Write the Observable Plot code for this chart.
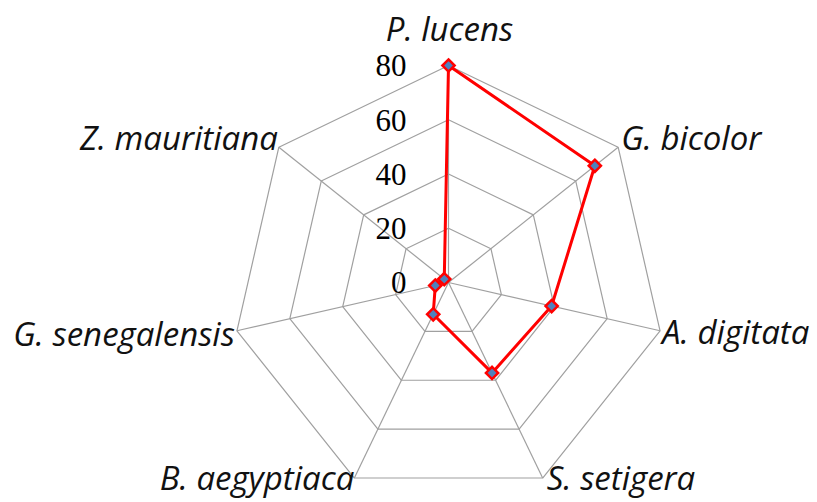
<!DOCTYPE html>
<html>
<head>
<meta charset="utf-8">
<script src="https://cdn.jsdelivr.net/npm/d3@7"></script>
<script src="https://cdn.jsdelivr.net/npm/@observablehq/plot@0.6"></script>
<style>
  html, body { margin: 0; padding: 0; background: #ffffff; }
  #chart svg { display: block; }
</style>
</head>
<body>
<div id="chart"></div>
<script>
// ---- data ----
const species = ["P. lucens", "G. bicolor", "A. digitata", "S. setigera", "B. aegyptiaca", "G. senegalensis", "Z. mauritiana"];
const values = [80, 69, 39, 37, 13, 5, 2];
const tickValues = [0, 20, 40, 60, 80];
const tickLabels = ["0", "20", "40", "60", "80"];

// ---- layout ----
const W = 817, H = 502;
const cx = 448, cy = 282, R = 217, maxV = 80;
const k = R / maxV;
const n = species.length;
const ang = i => (i * 2 * Math.PI) / n;
const px = (v, i) => v * Math.sin(ang(i));
const py = (v, i) => v * Math.cos(ang(i));

const rings = [];
for (const lv of tickValues.filter(t => t > 0)) {
  for (let i = 0; i <= n; i++) rings.push({lv, x: px(lv, i % n), y: py(lv, i % n)});
}
const spokes = species.map((s, i) => ({x: px(maxV, i), y: py(maxV, i)}));
const series = [];
for (let i = 0; i <= n; i++) series.push({name: species[i % n], x: px(values[i % n], i % n), y: py(values[i % n], i % n)});
const points = series.slice(0, n);

const labels = species.map((s, i) => ({s, x: px(maxV, i), y: py(maxV, i)}));
const labelFont = {fontFamily: "'Open Sans', sans-serif", fontStyle: "italic", fontSize: 33, fill: "#111", lineAnchor: "bottom"};
const place = {
  "P. lucens": {textAnchor: "middle", dx: 1, dy: -25},
  "G. bicolor": {textAnchor: "start", dx: 3, dy: 3},
  "A. digitata": {textAnchor: "start", dx: 2, dy: 13},
  "S. setigera": {textAnchor: "start", dx: 4, dy: 12},
  "B. aegyptiaca": {textAnchor: "end", dx: 0, dy: 12},
  "G. senegalensis": {textAnchor: "end", dx: -2, dy: 15},
  "Z. mauritiana": {textAnchor: "end", dx: -1, dy: 3}
};
const labelMarks = labels.map(d => Plot.text([d], {x: "x", y: "y", text: "s", ...labelFont, ...place[d.s]}));

const ticksData = tickValues.map((t, i) => ({t: tickLabels[i], x: 0, y: t}));

const chart = Plot.plot({
  width: W,
  height: H,
  margin: 0,
  style: {background: "#ffffff", overflow: "visible"},
  x: {type: "linear", domain: [-cx / k, (W - cx) / k], range: [0, W], axis: null},
  y: {type: "linear", domain: [-(H - cy) / k, cy / k], range: [H, 0], axis: null},
  marks: [
    Plot.line(rings, {x: "x", y: "y", z: "lv", stroke: "#a0a0a0", strokeWidth: 1.2}),
    Plot.link(spokes, {x1: 0, y1: 0, x2: "x", y2: "y", stroke: "#a0a0a0", strokeWidth: 1.2}),
    Plot.text(ticksData, {x: "x", y: "y", text: "t", textAnchor: "end", dx: -42, dy: 1, lineAnchor: "middle",
      fontFamily: "'Liberation Serif', 'Times New Roman', serif", fontSize: 31, fill: "#000"}),
    Plot.line(series, {x: "x", y: "y", stroke: "#ff0000", strokeWidth: 3}),
    Plot.dot(points, {x: "x", y: "y", symbol: "diamond2", r: 5.5, fill: "#4f81bd", stroke: "#ff0000", strokeWidth: 2.5}),
    ...labelMarks
  ]
});
document.getElementById("chart").appendChild(chart);
</script>
</body>
</html>
